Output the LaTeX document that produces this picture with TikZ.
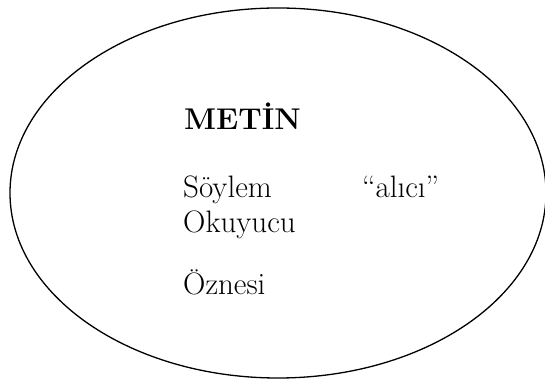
\documentclass[tikz,border=0pt]{standalone}
\begin{document}
\begin{tikzpicture}[x=1pt,y=1pt,
  lbl/.style={anchor=base west, inner sep=0pt, font=\fontsize{31}{35}\selectfont},
  oval/.style={draw=black, line width=1.3pt}]
\useasboundingbox (0,0) rectangle (545,379);
\draw[oval] (278,186) ellipse [x radius=268, y radius=185];
\node[lbl, font=\fontsize{30}{34}\selectfont\bfseries] (metin) at (184,249) {METİN};
\node[lbl] (soylem) at (183,181) {Söylem};
\node[lbl] (alici) at (362,181) {“alıcı”};
\node[lbl] (okuyucu) at (183,146) {Okuyucu};
\node[lbl] (oznesi) at (183,84) {Öznesi};
\end{tikzpicture}
\end{document}
